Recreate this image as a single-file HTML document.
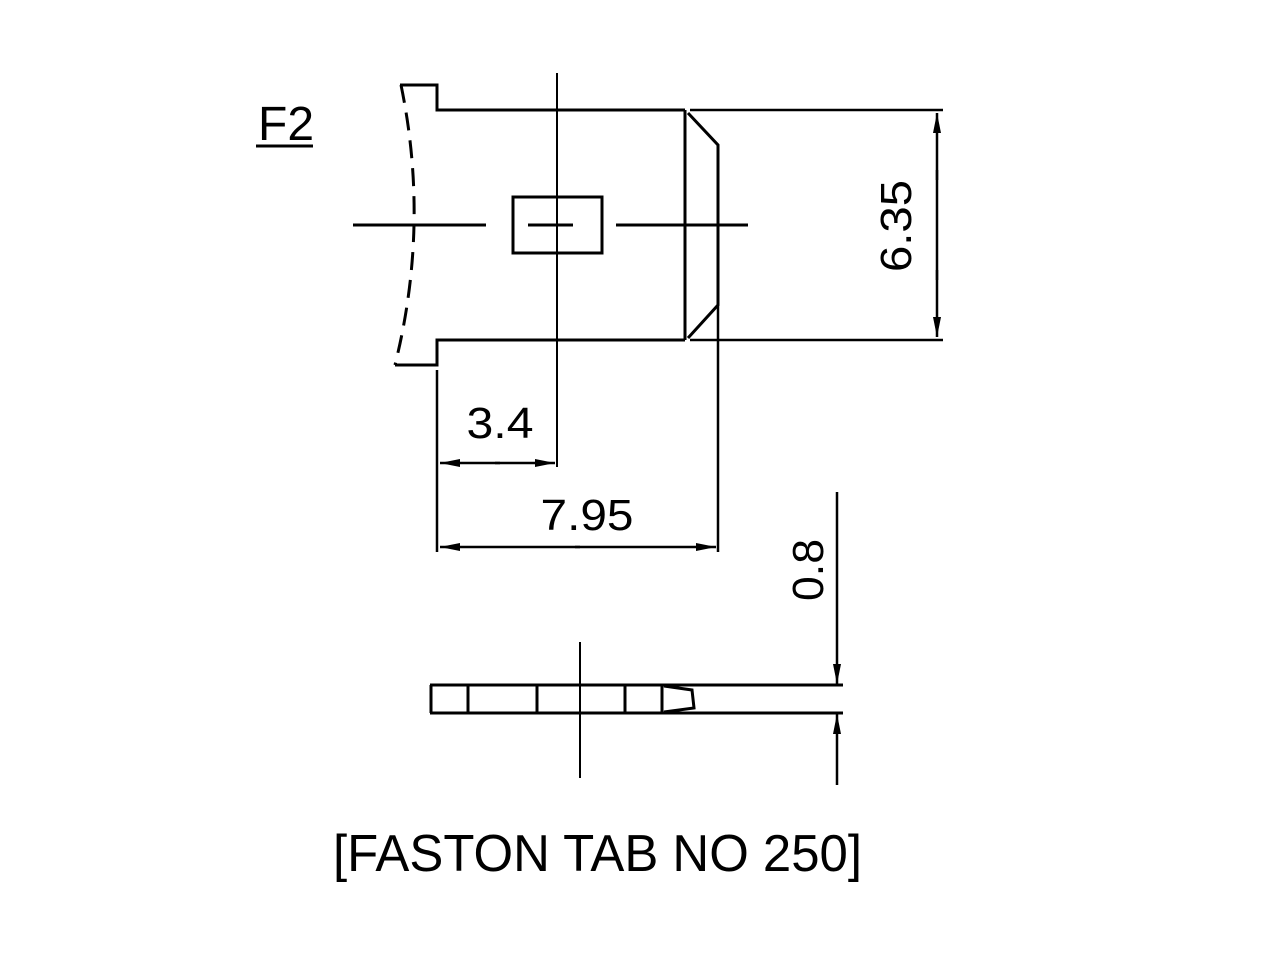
<!DOCTYPE html>
<html><head><style>body{margin:0;background:#fff}svg{display:block}</style></head><body>
<svg width="1280" height="960" viewBox="0 0 1280 960" font-family="Liberation Sans, sans-serif">
<defs>
<marker id="a" viewBox="0 0 20 8" refX="20" refY="4" markerWidth="20" markerHeight="8" markerUnits="userSpaceOnUse" orient="auto"><path d="M0,0L20,4L0,8z" fill="#000"/></marker>
</defs>
<g stroke="#000" fill="none" stroke-width="3">
<text x="258" y="140" font-size="48" fill="#000" stroke="none">F2</text>
<line x1="256" y1="146" x2="313" y2="146"/>
<polyline points="400,85 437,85 437,110 685,110"/>
<polyline points="395,365 437,365 437,340 685,340"/>
<path d="M401,85 Q430,225 395,365" stroke-dasharray="18,10"/>
<line x1="685" y1="110" x2="685" y2="340"/>
<polyline points="688,113 718,145 718,305 688,338"/>
<line x1="690" y1="110" x2="943" y2="110" stroke-width="2.5"/>
<line x1="690" y1="340" x2="943" y2="340" stroke-width="2.5"/>
<line x1="937" y1="180" x2="937" y2="113" marker-end="url(#a)" stroke-width="2.5"/>
<line x1="937" y1="270" x2="937" y2="337" marker-end="url(#a)" stroke-width="2.5"/>
<line x1="937" y1="170" x2="937" y2="280" stroke-width="2.5"/>
<line x1="557" y1="73" x2="557" y2="467" stroke-width="2"/>
<line x1="353" y1="225" x2="486" y2="225"/>
<line x1="528" y1="225" x2="573" y2="225"/>
<line x1="616" y1="225" x2="748" y2="225"/>
<rect x="513" y="197" width="89" height="56"/>
<line x1="437" y1="370" x2="437" y2="552" stroke-width="2.5"/>
<line x1="718" y1="305" x2="718" y2="552" stroke-width="2.5"/>
<line x1="500" y1="463" x2="440" y2="463" marker-end="url(#a)" stroke-width="2.5"/>
<line x1="495" y1="463" x2="555" y2="463" marker-end="url(#a)" stroke-width="2.5"/>
<line x1="580" y1="547" x2="440" y2="547" marker-end="url(#a)" stroke-width="2.5"/>
<line x1="575" y1="547" x2="716" y2="547" marker-end="url(#a)" stroke-width="2.5"/>
<line x1="430" y1="685" x2="843" y2="685"/>
<line x1="430" y1="713" x2="843" y2="713"/>
<line x1="431" y1="685" x2="431" y2="713"/>
<line x1="468" y1="685" x2="468" y2="713"/>
<line x1="537" y1="685" x2="537" y2="713"/>
<line x1="625" y1="685" x2="625" y2="713"/>
<line x1="662" y1="685" x2="662" y2="713"/>
<polyline points="664,686 692,690 694,708 664,712"/>
<line x1="580" y1="642" x2="580" y2="778" stroke-width="2"/>
<line x1="837" y1="492" x2="837" y2="684" marker-end="url(#a)" stroke-width="2.5"/>
<line x1="837" y1="785" x2="837" y2="714" marker-end="url(#a)" stroke-width="2.5"/>
</g>
<g font-size="44" fill="#000">
<text x="500" y="438" text-anchor="middle" textLength="67" lengthAdjust="spacingAndGlyphs">3.4</text>
<text x="587" y="530" text-anchor="middle" textLength="93" lengthAdjust="spacingAndGlyphs">7.95</text>
<text transform="translate(911,226) rotate(-90)" text-anchor="middle" textLength="92" lengthAdjust="spacingAndGlyphs">6.35</text>
<text transform="translate(823,570) rotate(-90)" text-anchor="middle" textLength="62" lengthAdjust="spacingAndGlyphs">0.8</text>
<text x="333" y="871" font-size="52" textLength="529" lengthAdjust="spacingAndGlyphs">[FASTON TAB NO 250]</text>
</g>
</svg>
</body></html>
